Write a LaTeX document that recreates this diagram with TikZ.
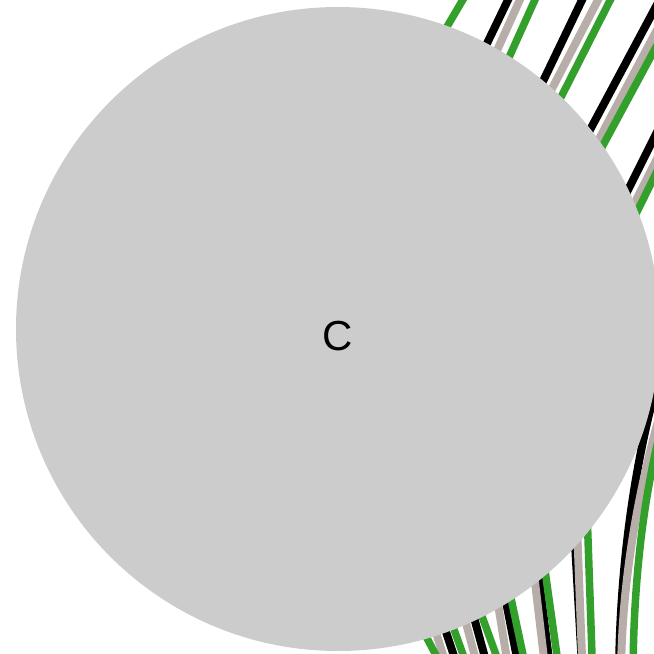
\documentclass[tikz,border=0pt]{standalone}
\usepackage{fontspec}
\setmainfont{Liberation Sans}
\usetikzlibrary{backgrounds}
\definecolor{nodefill}{HTML}{CCCCCC}
\definecolor{edgegreen}{HTML}{33A02C}
\definecolor{edgegray}{HTML}{B7AEAA}

\begin{document}
\begin{tikzpicture}[x=1pt, y=-1pt,
                  bk/.style={black, line width=8pt, line join=round},
                  gy/.style={edgegray, line width=8pt, line join=round},
                  gr/.style={edgegreen, line width=7.5pt, line join=round},
                  nd/.style={circle, fill=nodefill, minimum size=644pt, inner sep=0pt,
                             font=\fontsize{42}{42}\selectfont, text height=42pt, text depth=0pt}]

    \clip (0,0) rectangle (654,654); % frame of the image, 654 x 654

    \node [nd] (C) at (338,329) {C};

    \begin{scope}[on background layer] % edges go under the node
    % black first, gray over it, green last
    \draw [bk] (C.center) -- (479,60)  -- (521,-27) coordinate (k1);
    \draw [bk] (C.center) -- (534,100) -- (595,-27) coordinate (k2);
    \draw [bk] (C.center) -- (583,143) -- (668,-16) coordinate (k3);
    \draw [bk] (C.center) -- (619,208) -- (672,102) coordinate (k4);
    \draw [bk] (C.center) -- (441,617) -- (463,683) coordinate (k5);
    \draw [bk] (C.center) -- (470,603) -- (492,683) coordinate (k6);
    \draw [bk] (C.center) -- (503,586) -- (522,684) coordinate (k7);
    \draw [bk] (C.center) -- (537,563) -- (552,684) coordinate (k8);
    \draw [bk] (C.center) -- (574,526) -- (583,684) coordinate (k9);
    \draw [bk] (C.center) -- (645,330) -- (661,370) .. controls (635,456) and (619,570) .. (619,680) coordinate (k10);

    \draw [gy] (C.center) -- (490,66)  -- (532,-27) coordinate (y1);
    \draw [gy] (C.center) -- (543,106) -- (612,-27) coordinate (y2);
    \draw [gy] (C.center) -- (589,158) -- (668,9)   coordinate (y3);
    \draw [gy] (C.center) -- (626,220) -- (667,139) coordinate (y4);
    \draw [gy] (C.center) -- (432,620) -- (452,683) coordinate (y5);
    \draw [gy] (C.center) -- (462,608) -- (482,683) coordinate (y6);
    \draw [gy] (C.center) -- (496,592) -- (511,684) coordinate (y7);
    \draw [gy] (C.center) -- (533,565) -- (547,684) coordinate (y8);
    \draw [gy] (C.center) -- (577,525) -- (583,684) coordinate (y9);
    \draw [gy] (C.center) -- (645,330) -- (667,390) .. controls (641,476) and (621,575) .. (621,680) coordinate (y10);

    \draw [gr] (C.center) -- (438,42)  -- (478,-26) coordinate (g0);
    \draw [gr] (C.center) -- (502,73)  -- (547,-27) coordinate (g1);
    \draw [gr] (C.center) -- (553,113) -- (624,-27) coordinate (g2);
    \draw [gr] (C.center) -- (594,162) -- (670,21)  coordinate (g3);
    \draw [gr] (C.center) -- (629,228) -- (669,147) coordinate (g4);
    \draw [gr] (C.center) -- (419,623) -- (449,680) coordinate (g5);
    \draw [gr] (C.center) -- (448,613) -- (473,682) coordinate (g6);
    \draw [gr] (C.center) -- (476,600) -- (506,682) coordinate (g7);
    \draw [gr] (C.center) -- (508,584) -- (529,683) coordinate (g8);
    \draw [gr] (C.center) -- (543,556) -- (561,684) coordinate (g9);
    \draw [gr] (C.center) -- (587,510) -- (593,684) coordinate (g10);
    \draw [gr] (C.center) -- (645,330) -- (666,410) .. controls (644,488) and (633,580) .. (633,680) coordinate (g11);
    \end{scope}

\end{tikzpicture}
\end{document}
